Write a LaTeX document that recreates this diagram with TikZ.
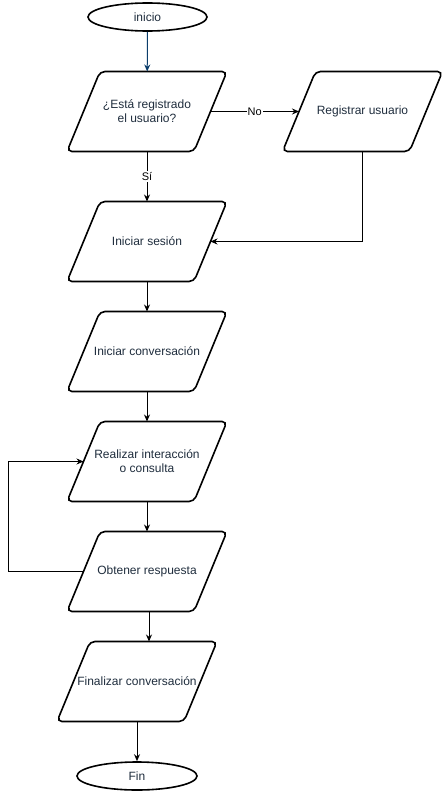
\documentclass[tikz,border=0pt]{standalone}
\usepackage{fontspec}
\setmainfont{Liberation Sans}
\usepackage{xcolor}
\usepackage{tikz}
\usetikzlibrary{positioning, arrows.meta, shapes.geometric}
\definecolor{fText}{HTML}{1F2D3D}
\definecolor{fBlue}{HTML}{0B3D6B}
\definecolor{fLine}{HTML}{000000}
\tikzset{
  term/.style={ellipse, draw=fLine, line width=1.6pt, minimum width=119pt,
    minimum height=28pt, inner sep=0pt, font=\fontsize{12}{14}\selectfont, text=fText},
  para/.style={rectangle, minimum width=127pt, minimum height=80pt, inner sep=0pt,
    outer sep=0pt, align=center, font=\fontsize{12}{14}\selectfont, text=fText,
    append after command={\pgfextra{\draw[line width=1.6pt, rounded corners=5pt, fLine]
      ([xshift=-16.5pt]\tikzlastnode.south west) -- ([xshift=-16.5pt]\tikzlastnode.south east)
      -- ([xshift=16.5pt]\tikzlastnode.north east) -- ([xshift=16.5pt]\tikzlastnode.north west)
      -- cycle;}}},
  arr/.style={-{Stealth[length=7pt, width=6pt]}, line width=1pt, fLine},
  lbl/.style={fill=white, inner sep=1pt, font=\fontsize{11}{13}\selectfont, text=black},
}
\begin{document}
\begin{tikzpicture}
  \useasboundingbox (0,0) rectangle (444pt,-792pt);
  % main column
  \node[term] (ini) at (147.5pt,-17pt) {inicio};
  \node[para] (q) at (147pt,-111.5pt) {¿Está registrado\\el usuario?};
  \node[para, right=88.5pt of q] (reg) {Registrar usuario};
  \node[para, below=50pt of q] (ses) {Iniciar sesión};
  \node[para, below=30pt of ses] (conv) {Iniciar conversación};
  \node[para, below=30pt of conv] (inter) {Realizar interacción\\o consulta};
  \node[para, below=30pt of inter] (resp) {Obtener respuesta};
  \node[para, below=30pt of resp, xshift=-10pt] (fconv) {Finalizar conversación};
  \node[term, minimum width=120pt] (fin) at (137pt,-776pt) {Fin};

  % connectors
  \draw[arr, fBlue] (ini) -- (q);
  \draw[arr] (q) -- node[lbl] {No} (reg);
  \draw[arr] (q) -- node[lbl] {Sí} (ses);
  \draw[arr] (reg.south) |- (ses.east);
  \draw[arr] (ses) -- (conv);
  \draw[arr] (conv) -- (inter);
  \draw[arr] (inter) -- (resp);
  \draw[arr] (resp.west) -- ++(-75.5pt,0) |- (inter.west);
  \draw[arr] ([xshift=2pt]resp.south) -- ([xshift=2pt]resp.south |- fconv.north);
  \draw[arr] (fconv) -- (fin);
\end{tikzpicture}
\end{document}
